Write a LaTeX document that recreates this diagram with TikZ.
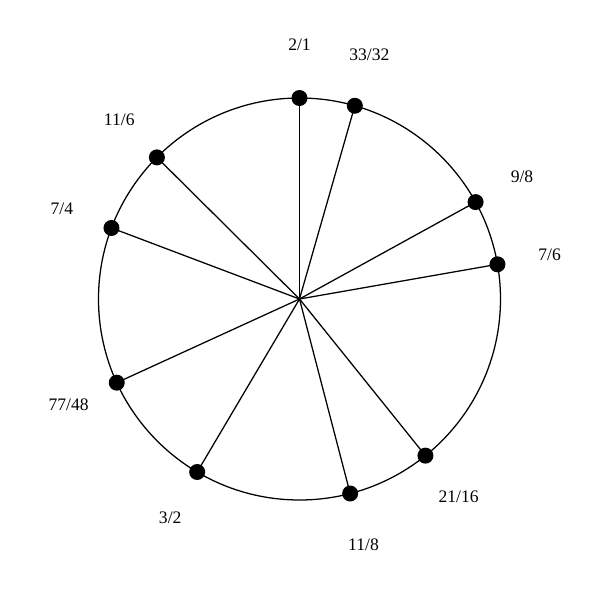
\documentclass[tikz,border=0pt]{standalone}
\usepackage{fontspec}
\setmainfont{Liberation Serif}
\usetikzlibrary{calc}
\begin{document}
\begin{tikzpicture}[x=0.025cm,y=-0.025cm,
  ring/.style={draw=black,line width=0.9pt},
  spoke/.style={draw=black,line width=0.9pt},
  dot/.style={circle,fill=black,inner sep=0pt,minimum size=0.4cm},
  lab/.style={font=\fontsize{12.5}{14}\selectfont,inner sep=0pt}]
\useasboundingbox (0,0) rectangle (600,600);
\coordinate (c) at (299.5,299);
\draw[ring] (c) circle[radius=201];
\foreach \n/\t/\a in {a/2\slash 1/0, b/33\slash 32/15.98, c9/9\slash 8/61.17, d/7\slash 6/80.06, e/21\slash 16/141.2, f/11\slash 8/165.4, g/3\slash 2/210.6, h/77\slash 48/245.4, i/7\slash 4/290.7, j/11\slash 6/314.8}{
  \node[dot] (p\n) at ($(c)+({201*sin(\a)},{-201*cos(\a)})$) {};
  \node[lab] (l\n) at ($(c)+({254*sin(\a)},{-254*cos(\a)})$) {\t};
  \draw[spoke] (c) -- (p\n.center);
}
\end{tikzpicture}
\end{document}
